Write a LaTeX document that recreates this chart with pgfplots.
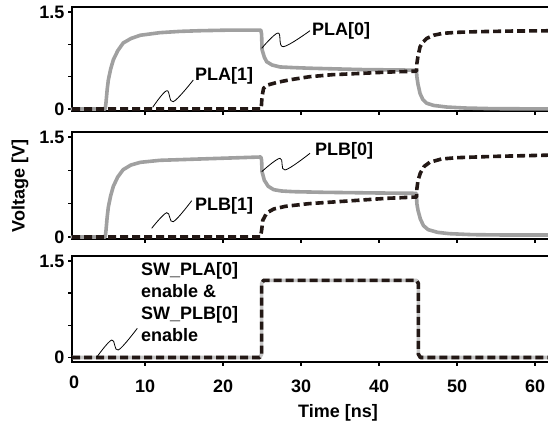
\documentclass[border=0pt]{standalone}
\usepackage{fontspec}
\setmainfont{Liberation Sans}
\usepackage{pgfplots}
\pgfplotsset{compat=1.18}
\definecolor{dk}{RGB}{35,24,21}
\definecolor{gl}{RGB}{160,160,160}
\pgfplotsset{
 panel/.style={
  scale only axis, width=484pt, xmin=0.64, xmax=62.69,
  line width=2.6pt,
  tick style={line width=1.4pt, black},
  major tick length=4pt,
  tick align=outside, tick pos=left,
  xtick={10,20,30,40,50,60},
  ytick={0,0.5,1,1.5}, yticklabels={0,,,1.5},
  /pgf/number format/assume math mode=true,
  tick label style={font=\fontsize{18}{20}\selectfont\bfseries},
  yticklabel style={xshift=1pt},
  clip=false,
 },
 gcurve/.style={color=gl, line width=3.6pt, line join=round, line cap=round},
 dcurve/.style={color=dk, line width=3.6pt, line join=round, dash pattern=on 8pt off 4pt},
}
\begin{document}
\begin{tikzpicture}[x=1pt,y=1pt]
\useasboundingbox (0,0) rectangle (548,430);
\clip (0,0) rectangle (548,430);
% top panel
\begin{axis}[panel, at={(72pt,319pt)}, anchor=south west, height=104pt,
  ymin=-0.031, ymax=1.577, xticklabels={}]
\addplot[gcurve] coordinates {(0.64,0) (4.9,0) (5.0,0.1) (5.15,0.3) (5.3,0.45) (5.6,0.62) (5.94,0.76) (6.5,0.9) (7.2,1.02) (8.2,1.09) (9.4,1.14) (11.9,1.18) (14.5,1.2) (17,1.21) (21,1.22) (24.85,1.22) (24.95,1.15) (25.0,0.92) (25.3,0.8) (25.6,0.73) (26.3,0.68) (27.3,0.65) (29,0.64) (31.2,0.63) (37.6,0.61) (44.8,0.60) (44.85,0.5) (45.0,0.38) (45.26,0.24) (45.6,0.15) (46.1,0.09) (47,0.055) (48.7,0.03) (51,0.015) (54.6,0.005) (62.7,0)};
\addplot[dcurve] coordinates {(0.64,0) (24.9,0) (24.95,0.1) (25.0,0.19) (25.2,0.32) (25.7,0.37) (26.9,0.41) (28.5,0.45) (31.15,0.5) (34,0.53) (37.6,0.55) (41,0.57) (44.8,0.585) (44.85,0.7) (45.0,0.82) (45.26,0.96) (45.6,1.03) (46.1,1.09) (47,1.14) (48.2,1.17) (50,1.185) (52.5,1.195) (57,1.205) (62.7,1.21)};
\end{axis}
% middle panel
\begin{axis}[panel, at={(72pt,191pt)}, anchor=south west, height=107pt,
  ymin=-0.03, ymax=1.575, xticklabels={}]
\addplot[gcurve] coordinates {(0.64,0) (4.9,0) (5.0,0.1) (5.15,0.3) (5.3,0.45) (5.6,0.62) (5.94,0.76) (6.5,0.9) (7.2,1.01) (8.2,1.08) (9.4,1.12) (11.9,1.15) (17,1.17) (24.85,1.2) (24.95,1.15) (25.0,0.98) (25.3,0.85) (25.8,0.76) (26.5,0.71) (27.5,0.69) (29,0.68) (33,0.67) (40,0.66) (44.8,0.655) (44.85,0.5) (45.0,0.4) (45.3,0.27) (45.7,0.17) (46.3,0.11) (47.5,0.07) (49,0.05) (52,0.035) (56,0.03) (62.7,0.03)};
\addplot[dcurve] coordinates {(0.64,0) (24.8,0) (24.95,0.1) (25.1,0.25) (25.6,0.36) (26.5,0.42) (28,0.46) (31,0.5) (36,0.54) (41,0.58) (44.8,0.6) (44.85,0.72) (45.0,0.85) (45.3,0.96) (45.8,1.06) (46.5,1.12) (48,1.17) (50,1.19) (55,1.21) (62.7,1.23)};
\end{axis}
% bottom panel
\begin{axis}[panel, at={(72pt,68pt)}, anchor=south west, height=106pt,
  ymin=-0.07, ymax=1.578,
  extra x ticks={0.9}, extra x tick labels={0}, extra x tick style={major tick length=0pt},
  xticklabel style={yshift=-9pt}]
\addplot[color=gl!60, line width=3.6pt, line join=round] coordinates {(0.64,0) (24.7,0) (24.95,0.05) (24.95,1.15) (25.2,1.2) (44.8,1.2) (45.05,1.15) (45.05,0.05) (45.3,0) (62.7,0)};
\addplot[dcurve] coordinates {(0.64,0) (24.7,0) (24.95,0.05) (24.95,1.15) (25.2,1.2) (44.8,1.2) (45.05,1.15) (45.05,0.05) (45.3,0) (62.7,0)};
\end{axis}
% annotations
\begin{scope}[line width=0.8pt]
\draw plot[smooth, tension=0.6] coordinates {(152.7,322.7) (166.7,339.3) (173.3,328.3) (193.3,350)};
\draw plot[smooth, tension=0.6] coordinates {(261.7,381.7) (278,397) (283.3,383.3) (310,399.3)};
\draw plot[smooth, tension=0.6] coordinates {(261.7,258.3) (280,271.7) (285,260) (310,276.7)};
\draw plot[smooth, tension=0.6] coordinates {(151.7,201.7) (166.7,217.3) (173.3,208.3) (191.7,229.3)};
\draw plot[smooth, tension=0.6] coordinates {(96.7,72.7) (111.7,90) (118.3,80) (137.3,101.7)};
\end{scope}
\begin{scope}[every node/.style={font=\fontsize{18}{22}\selectfont\bfseries, inner sep=0pt}]
\node[anchor=west] at (195,354) {PLA[1]};
\node[anchor=west] at (312,399) {PLA[0]};
\node[anchor=west] at (315,279.3) {PLB[0]};
\node[anchor=west] at (195,224) {PLB[1]};
\node[anchor=north west, align=left] at (141,168) {SW\_PLA[0]\\enable \&\\SW\_PLB[0]\\enable};
\node at (338,17) {Time [ns]};
\node[rotate=90] at (20,244) {Voltage [V]};
\end{scope}
\end{tikzpicture}
\end{document}
